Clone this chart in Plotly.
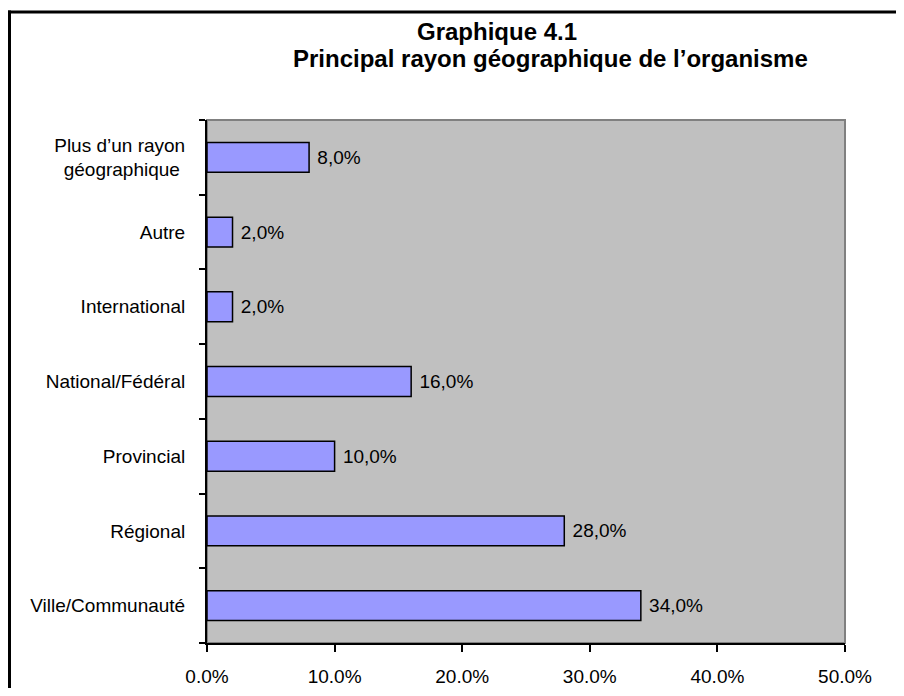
import plotly.graph_objects as go

categories = ["Ville/Communauté", "Régional", "Provincial", "National/Fédéral",
              "International", "Autre", "Plus d’un rayon<br>géographique "]
values = [0.34, 0.28, 0.10, 0.16, 0.02, 0.02, 0.08]
x_ticks = [0.0, 0.1, 0.2, 0.3, 0.4, 0.5]
title_line1 = "Graphique 4.1"
title_line2 = "Principal rayon géographique de l’organisme"

labels = ["\u00a0" + f"{v*100:.1f}%".replace(".", ",") for v in values]
FONT = "Liberation Sans, Arial, sans-serif"

# page has an 8px body margin; sizes/margins compensate for it
W, H = 888, 680
L, T, PW, PH = 199, 112, 638, 523
fig = go.Figure(go.Bar(
    y=categories, x=values, orientation="h",
    marker=dict(color="#9999FF", line=dict(color="black", width=1.5)),
    width=0.4,
    text=labels, textposition="outside", cliponaxis=False,
    textfont=dict(family=FONT, size=19, color="black"),
))

def px_x(p):
    return (p - L) / PW

def px_y(p):
    return (T + PH - p) / PH

fig.update_layout(
    width=W, height=H,
    margin=dict(l=L, r=W - L - PW, t=T, b=H - T - PH, autoexpand=False),
    paper_bgcolor="white", plot_bgcolor="#C0C0C0",
    showlegend=False,
    font=dict(family=FONT, size=19, color="black"),
    xaxis=dict(range=[0, 0.5], tickvals=x_ticks, tickformat=".1%", automargin=False,
               showgrid=False, zeroline=False, showline=True, linecolor="black",
               linewidth=2, ticks="outside", ticklen=7, tickwidth=2, tickcolor="black",
               ticklabelstandoff=8, tickfont=dict(family=FONT, size=19)),
    yaxis=dict(type="category", categoryorder="array", categoryarray=categories,
               automargin=False,
               showgrid=False, zeroline=False, showline=True, linecolor="black",
               linewidth=2, ticks="outside", ticklen=6, tickwidth=2, tickcolor="black",
               tickson="boundaries", ticklabelstandoff=16,
               tickfont=dict(family=FONT, size=19)),
    shapes=[
        dict(type="rect", xref="paper", yref="paper", x0=0, x1=1, y0=0, y1=1,
             line=dict(color="#808080", width=2), layer="below"),
        dict(type="line", xref="paper", yref="paper", x0=px_x(1.5), x1=px_x(1.5),
             y0=px_y(H + 10), y1=px_y(2.5), line=dict(color="black", width=3)),
        dict(type="line", xref="paper", yref="paper", x0=px_x(0), x1=px_x(W + 10),
             y0=px_y(4), y1=px_y(4), line=dict(color="black", width=3)),
    ],
    annotations=[
        dict(text=f"<b>{title_line1}</b>", xref="paper", yref="paper",
             x=px_x(489), y=px_y(23.5), xanchor="center", yanchor="middle", showarrow=False,
             font=dict(family=FONT, size=24, color="black")),
        dict(text=f"<b>{title_line2}</b>", xref="paper", yref="paper",
             x=px_x(542), y=px_y(50.5), xanchor="center", yanchor="middle", showarrow=False,
             font=dict(family=FONT, size=24, color="black")),
    ],
)

fig.write_html("out.html")
